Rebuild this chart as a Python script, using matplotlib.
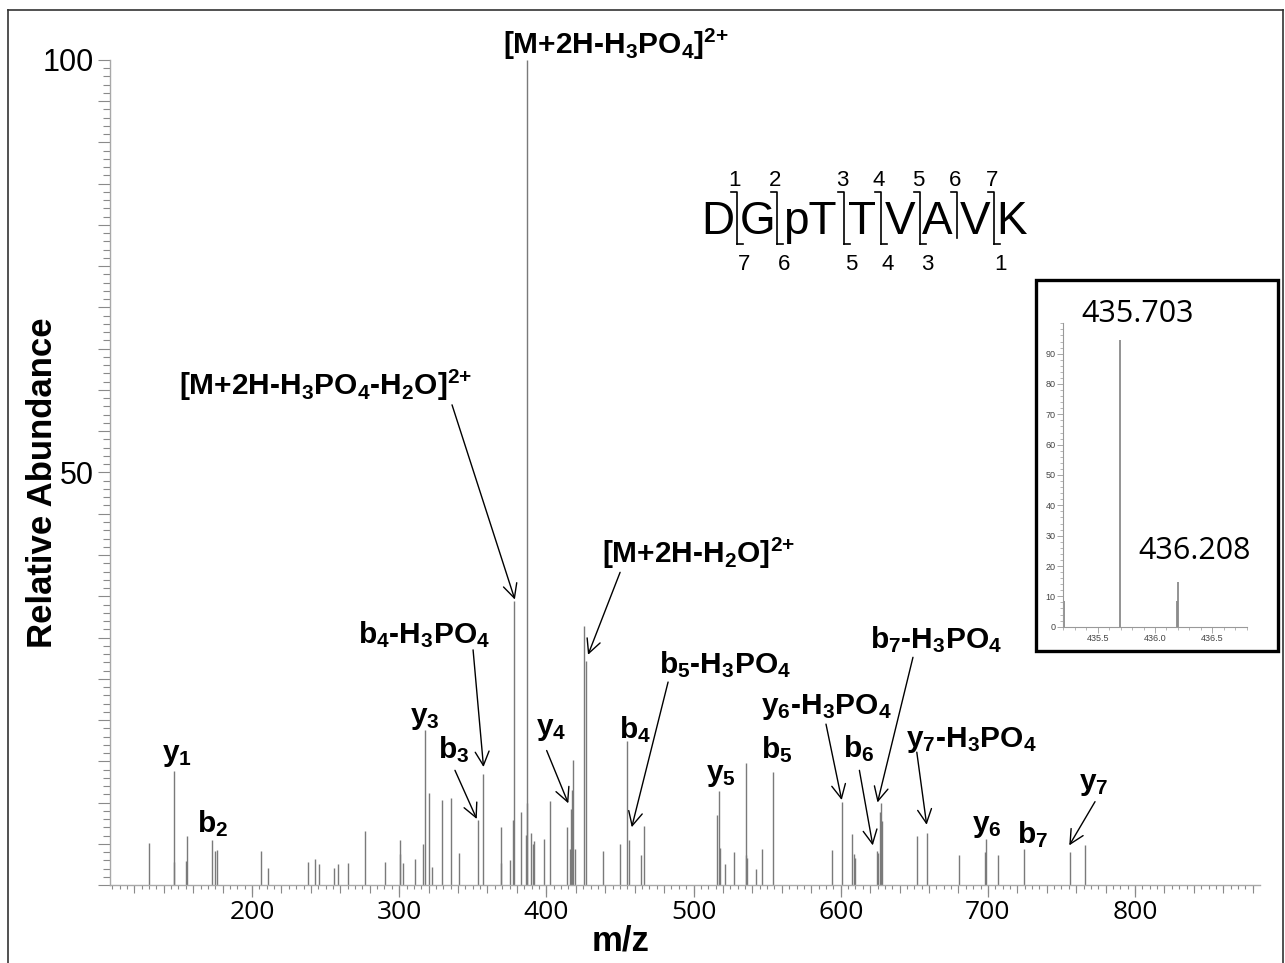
import numpy as np
import matplotlib
matplotlib.use("Agg")
import matplotlib.pyplot as plt
from matplotlib.patches import Rectangle
from matplotlib.lines import Line2D
from matplotlib.ticker import MultipleLocator

plt.rcParams['font.family'] = ['Liberation Sans', 'DejaVu Sans']
plt.rcParams['mathtext.fontset'] = 'custom'
plt.rcParams['mathtext.rm'] = 'Liberation Sans:bold'
plt.rcParams['mathtext.it'] = 'Liberation Sans:bold'
plt.rcParams['mathtext.bf'] = 'Liberation Sans:bold'

W, H = 1285, 963

# --- MS/MS spectrum (m/z, relative abundance) ---
mz = [130.0, 146.8, 147.3, 155.0, 155.8, 172.8, 175.1, 176.4, 205.9, 210.7,
      238.0, 242.8, 245.3, 255.5, 258.2, 265.0, 276.8, 290.4, 300.3, 300.6,
      302.8, 311.0, 316.4, 317.6, 320.5, 322.5, 329.3, 335.4, 340.9, 353.8,
      357.2, 368.9, 369.2, 375.3, 377.6, 378.0, 382.8, 386.2, 386.6, 387.1,
      389.6, 390.7, 391.8, 398.4, 402.3, 413.8, 416.1, 416.8, 417.4, 417.9,
      419.7, 425.8, 426.7, 438.3, 450.3, 454.6, 456.4, 464.3, 466.6, 515.7,
      517.3, 517.8, 521.4, 527.5, 535.5, 535.9, 536.5, 542.2, 546.3, 553.8,
      593.9, 600.7, 607.9, 608.9, 609.8, 624.5, 625.6, 626.7, 627.4, 628.3,
      652.1, 658.4, 680.2, 697.8, 698.5, 706.7, 724.8, 755.8, 765.8]
intensity = [5.1, 13.8, 2.8, 2.9, 5.9, 5.4, 4.1, 4.2, 4.1, 2.1,
             2.8, 3.2, 2.5, 2.1, 2.6, 2.7, 6.6, 2.8, 3.8, 5.5,
             2.7, 3.2, 5.0, 18.8, 11.1, 2.2, 10.3, 10.6, 3.9, 7.9,
             13.5, 2.7, 7.0, 3.0, 7.9, 34.4, 8.8, 6.1, 100.0, 9.9,
             6.3, 5.0, 5.3, 5.6, 10.2, 7.0, 4.4, 9.2, 11.5, 15.2,
             4.4, 31.4, 27.1, 4.1, 5.0, 17.4, 5.5, 3.6, 7.2, 8.5,
             11.4, 4.5, 2.6, 4.0, 14.8, 3.6, 3.3, 2.0, 4.4, 13.7,
             4.3, 10.1, 6.2, 3.8, 3.3, 4.1, 3.9, 8.9, 10.0, 7.8,
             6.0, 6.3, 3.6, 4.0, 5.6, 3.6, 4.4, 4.0, 4.8]

xtick_vals = [200, 300, 400, 500, 600, 700, 800]
ytick_labelled = [50, 100]

# --- isotope inset ---
iso_mz = [435.206, 435.699, 436.192, 436.203]
iso_int = [8.6, 94.4, 8.6, 14.8]
iso_labels = ['435.703', '436.208']
iso_xticks = [435.5, 436.0, 436.5]

# --- fragment annotations: label, text centre, arrow start, arrow tip ---
ion_labels = ['[M+2H-H$_3$PO$_4$]$^{2{+}}$', '[M+2H-H$_3$PO$_4$-H$_2$O]$^{2{+}}$',
              '[M+2H-H$_2$O]$^{2{+}}$', 'b$_4$-H$_3$PO$_4$', 'y$_3$', 'b$_3$',
              'y$_4$', 'b$_4$', 'b$_5$-H$_3$PO$_4$', 'y$_5$', 'b$_5$',
              'y$_6$-H$_3$PO$_4$', 'b$_6$', 'b$_7$-H$_3$PO$_4$',
              'y$_7$-H$_3$PO$_4$', 'y$_6$', 'b$_7$', 'y$_7$', 'y$_1$', 'b$_2$']
label_xy = [(447.3, 101.9), (250.3, 60.6), (503.7, 40.2), (316.9, 30.3),
            (317.6, 20.2), (337.3, 16.4), (403.2, 18.9), (460.2, 18.8),
            (521.4, 26.7), (518.7, 13.3), (556.7, 16.4), (590.0, 21.6),
            (612.5, 16.5), (664.8, 29.7), (688.5, 17.6), (699.4, 7.2),
            (730.7, 6.1), (772.1, 12.2), (149.0, 15.8), (173.5, 7.4)]
arrow_from = [None, (335.9, 58.2), (450.1, 37.9), (350.2, 28.5), None,
              (337.9, 13.9), (400.2, 16.3), None, (482.7, 24.6), None, None,
              (590.0, 19.5), (612.7, 13.9), (649.1, 27.6), (651.7, 16.1),
              None, None, (772.8, 10.1), None, None]
arrow_to = [None, (378.6, 34.6), (428.3, 27.9), (357.3, 14.3), None,
            (352.7, 8.0), (414.9, 9.9), None, (458.0, 7.0), None, None,
            (600.7, 10.3), (621.8, 4.8), (625.0, 10.0), (658.4, 7.3),
            None, None, (755.3, 4.8), None, None]

# --- peptide sequence with b / y cleavage marks ---
residues = ['D', 'G', 'pT', 'T', 'V', 'A', 'V', 'K']
b_num = ['1', '2', '3', '4', '5', '6', '7']
y_num = ['7', '6', '5', '4', '3', '', '1']


def fx(px):
    return px / W


def fy(py):
    return 1 - py / H


fig = plt.figure(figsize=(W / 100, H / 100), dpi=100)

# outer frame
for xs, ys in [((8, 8), (10, H + 5)), ((8, 1283), (10, 10)), ((1283, 1283), (10, H + 5))]:
    fig.add_artist(Line2D([fx(x) for x in xs], [fy(y) for y in ys],
                          transform=fig.transFigure, color='#333333', lw=1.2))

ax = fig.add_axes([fx(110), fy(885), fx(1260) - fx(110), fy(60) - fy(885)])
ax.vlines(mz, 0, intensity, color='#7a7a7a', lw=1.0)
ax.set_xlim(103.5, 884.9)
ax.set_ylim(0, 100)
for s in ['top', 'right']:
    ax.spines[s].set_visible(False)
for s in ['left', 'bottom']:
    ax.spines[s].set_color('#a8a8a8')
    ax.spines[s].set_linewidth(1.0)

ax.set_xticks(xtick_vals)
ax.set_xticklabels([str(v) for v in xtick_vals], fontfamily='Open Sans', fontsize=19)
ax.xaxis.set_minor_locator(MultipleLocator(5))
ax.tick_params(axis='x', which='major', length=8.6, width=0.9, color='#8a8a8a', pad=2)
ax.tick_params(axis='x', which='minor', length=3, width=0.8, color='#8a8a8a')
sec = ax.secondary_xaxis('bottom')
sec.set_xticks(np.arange(120, 885, 20))
sec.tick_params(length=5.8, width=0.8, color='#8a8a8a', labelbottom=False)
sec.spines['bottom'].set_visible(False)

yt = np.arange(0, 101, 5)
ax.set_yticks(yt)
ax.set_yticklabels([str(v) if v in ytick_labelled else '' for v in yt], fontsize=22)
ax.yaxis.set_minor_locator(MultipleLocator(1))
ax.tick_params(axis='y', which='major', length=8.6, width=0.8, color='#8a8a8a', pad=3)
ax.tick_params(axis='y', which='minor', length=5, width=0.8, color='#8a8a8a')

fig.text(fx(43), fy(483), 'Relative Abundance', rotation=90, ha='center', va='center',
         fontsize=25, fontweight='bold')
fig.text(fx(621), fy(941), 'm/z', ha='center', va='center', fontsize=25, fontweight='bold')

for lab, xy, a0, a1 in zip(ion_labels, label_xy, arrow_from, arrow_to):
    ax.text(xy[0], xy[1], lab, ha='center', va='center', fontsize=21.5,
            fontweight='bold', clip_on=False)
    if a0 is not None:
        ax.annotate('', xy=a1, xytext=a0, annotation_clip=False,
                    arrowprops=dict(arrowstyle='->,head_length=0.5,head_width=0.25',
                                    lw=1.0, color='black', shrinkA=0, shrinkB=0,
                                    mutation_scale=20))

# peptide sequence
res_x = [718, 758, 810, 862, 900, 937, 975, 1012]
cut_x = [736.7, 777.3, 844, 880.7, 920, 956.7, 994]
for r, x in zip(residues, res_x):
    fig.text(fx(x), fy(222), r, ha='center', va='center', fontsize=33)
top, bot, hook = 192, 244, 6
for x, bn, yn in zip(cut_x, b_num, y_num):
    yb = bot if yn else 238
    fig.add_artist(Line2D([fx(x - hook), fx(x), fx(x)], [fy(top), fy(top), fy(yb)],
                          transform=fig.transFigure, color='black', lw=1.2))
    if yn:
        fig.add_artist(Line2D([fx(x), fx(x + hook)], [fy(bot), fy(bot)],
                              transform=fig.transFigure, color='black', lw=1.2))
        fig.text(fx(x + 7), fy(265), yn, ha='center', va='center', fontsize=16)
    fig.text(fx(x - 2), fy(180), bn, ha='center', va='center', fontsize=16)

# inset with the precursor isotope pattern
fig.add_artist(Rectangle((fx(1036), fy(651)), fx(1278) - fx(1036), fy(280) - fy(651),
                         transform=fig.transFigure, fill=False, ec='black', lw=2.4))
iax = fig.add_axes([fx(1063.3), fy(626.7), fx(1246.7) - fx(1063.3), fy(323.3) - fy(626.7)])
iax.vlines(iso_mz, 0, iso_int, color='#8a8a8a', lw=1.3)
iax.set_xlim(435.2, 436.8)
iax.set_ylim(0, 100)
for s in ['top', 'right']:
    iax.spines[s].set_visible(False)
for s in ['left', 'bottom']:
    iax.spines[s].set_color('#999999')
    iax.spines[s].set_linewidth(0.8)
iax.set_xticks(iso_xticks)
iax.set_xticklabels(['%.1f' % v for v in iso_xticks])
iax.xaxis.set_minor_locator(MultipleLocator(0.1))
iax.set_yticks(np.arange(0, 91, 10))
iax.yaxis.set_minor_locator(MultipleLocator(2))
iax.tick_params(which='major', length=4, width=0.6, color='#999999', labelsize=6.5,
                labelcolor='#444444', pad=1.5)
iax.tick_params(which='minor', length=2.2, width=0.5, color='#999999')
fig.text(fx(1138), fy(314), iso_labels[0], ha='center', va='center',
         fontfamily='Open Sans', fontsize=22)
fig.text(fx(1195), fy(551), iso_labels[1], ha='center', va='center',
         fontfamily='Open Sans', fontsize=22)

fig.savefig('out.png', dpi=100)
